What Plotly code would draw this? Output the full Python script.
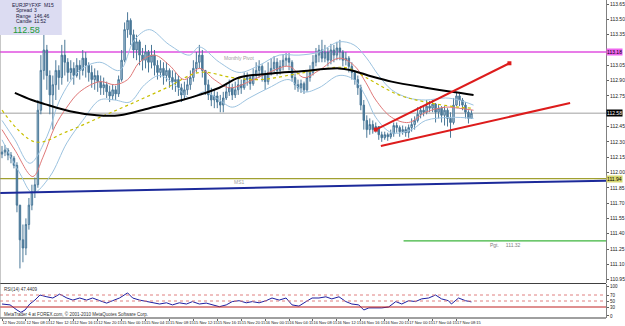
import plotly.graph_objects as go

# ---------------- data ----------------
close = [112.20,112.22,112.17,112.14,112.07,111.68,111.34,111.26,111.49,111.68,
111.81,111.88,112.61,113.00,113.20,112.95,112.76,112.86,113.00,112.93,
113.15,113.08,112.98,113.02,112.95,113.05,113.00,113.12,113.05,112.98,
112.91,112.95,112.89,112.83,112.86,112.79,112.75,112.81,112.77,112.91,
113.10,113.40,113.49,113.35,113.20,113.28,113.15,113.10,113.18,113.08,
113.15,113.05,112.98,113.02,112.95,113.00,112.93,112.89,112.91,112.83,
112.76,112.81,112.86,112.93,113.02,113.08,113.15,113.00,112.86,112.76,
112.71,112.75,112.69,112.66,112.73,112.79,112.83,112.76,112.81,112.86,
112.83,112.91,112.93,112.87,112.95,113.00,113.04,112.96,112.89,112.98,
113.02,113.08,113.00,113.04,113.10,113.12,113.08,112.93,112.86,112.83,
112.87,112.81,112.93,112.98,113.08,113.15,113.20,113.12,113.18,113.10,
113.20,113.15,113.22,113.18,113.10,113.12,113.04,112.98,112.91,112.83,
112.66,112.51,112.42,112.47,112.42,112.45,112.37,112.34,112.37,112.35,
112.38,112.46,112.44,112.40,112.42,112.39,112.44,112.47,112.51,112.57,
112.61,112.59,112.65,112.63,112.67,112.59,112.63,112.56,112.61,112.53,
112.49,112.66,112.75,112.71,112.66,112.59,112.53,112.58]

high = [112.26,112.27,112.24,112.20,112.16,112.10,111.68,111.49,111.55,111.75,
111.88,111.95,112.71,113.15,113.35,113.25,113.00,112.95,113.10,113.05,
113.25,113.30,113.12,113.10,113.08,113.12,113.10,113.20,113.18,113.08,
113.05,113.02,113.00,112.95,112.93,112.89,112.85,112.86,112.85,112.95,
113.20,113.47,113.57,113.51,113.40,113.35,113.30,113.22,113.25,113.20,
113.25,113.20,113.10,113.10,113.08,113.08,113.02,113.00,112.98,112.95,
112.87,112.89,112.93,113.00,113.10,113.18,113.25,113.20,113.00,112.91,
112.83,112.81,112.79,112.76,112.79,112.86,112.91,112.87,112.89,112.93,
112.91,112.98,112.98,112.95,113.02,113.08,113.10,113.06,113.00,113.08,
113.12,113.14,113.12,113.10,113.16,113.17,113.17,113.10,112.97,112.91,
112.91,112.89,113.00,113.05,113.15,113.22,113.25,113.30,113.25,113.22,
113.26,113.25,113.28,113.30,113.20,113.18,113.14,113.08,113.00,112.95,
112.86,112.71,112.56,112.53,112.51,112.49,112.44,112.40,112.40,112.39,
112.42,112.49,112.49,112.46,112.46,112.45,112.47,112.53,112.55,112.64,
112.65,112.66,112.71,112.70,112.71,112.68,112.66,112.65,112.65,112.63,
112.59,112.73,112.79,112.77,112.73,112.69,112.61,112.61]

low = [112.14,112.16,112.12,112.09,112.04,111.61,111.06,111.12,111.19,111.44,
111.63,111.75,111.85,112.57,112.91,112.81,112.57,112.42,112.71,112.81,
112.86,112.95,112.89,112.91,112.86,112.93,112.91,112.95,112.93,112.89,
112.83,112.81,112.79,112.76,112.76,112.73,112.69,112.71,112.71,112.74,
112.89,113.08,113.32,113.25,113.12,113.10,113.05,113.00,113.02,112.98,
113.02,112.95,112.91,112.93,112.86,112.89,112.83,112.81,112.79,112.75,
112.69,112.71,112.76,112.81,112.89,112.98,113.02,112.93,112.76,112.71,
112.65,112.63,112.63,112.59,112.59,112.71,112.75,112.71,112.73,112.76,
112.77,112.81,112.85,112.81,112.85,112.91,112.93,112.89,112.81,112.86,
112.95,112.98,112.95,112.96,113.00,113.04,113.00,112.89,112.81,112.79,
112.78,112.77,112.79,112.89,112.95,113.04,113.08,113.08,113.08,113.04,
113.06,113.08,113.10,113.10,113.04,113.05,112.98,112.91,112.86,112.76,
112.61,112.42,112.34,112.37,112.38,112.39,112.32,112.30,112.32,112.31,
112.33,112.35,112.39,112.35,112.37,112.35,112.34,112.40,112.42,112.49,
112.53,112.55,112.57,112.59,112.59,112.49,112.53,112.49,112.46,112.45,
112.34,112.47,112.65,112.65,112.61,112.53,112.48,112.54]

first_open = 112.18

# moving averages (bar index, price)
ma_black_x = [4.3,10,14.3,22.7,31.7,39.3,49.3,60.3,66,72.7,79.3,90.3,99.3,112.7,117,123.7,130.3,141.7,150.3,157.7]
ma_black_y = [112.78,112.71,112.67,112.60,112.56,112.56,112.63,112.71,112.76,112.83,112.93,112.97,112.99,113.02,113.00,112.94,112.89,112.83,112.79,112.76]

ma_yellow_x = [0,11,21.7,32.7,43.7,55,66,77,86,99.3,111.7,116,121.7,132.7,141.7,152.7,157.7]
ma_yellow_y = [112.61,112.30,112.40,112.54,112.68,112.83,112.98,112.93,112.91,112.97,113.03,113.02,112.93,112.76,112.69,112.64,112.63]

ma_red_x = [0,4.3,10.3,13.7,17.7,21.7,26,32.7,37.7,42,46,51,56,61,66,71,76,82.7,89.3,96,101,106,112.7,117.7,121.7,125,130.3,136,141.7,148.3,152.7,157.7]
ma_red_y = [112.42,112.22,111.96,112.15,112.45,112.64,112.79,112.89,112.86,112.91,113.08,113.15,113.05,112.91,113.02,112.91,112.83,112.89,112.98,113.04,112.93,113.00,113.12,113.05,112.88,112.71,112.54,112.49,112.59,112.64,112.63,112.61]

band_up_x = [0,4.3,9.3,15,19.3,26,32.7,39.3,44.3,49.3,56,62.7,66,72.7,79.3,86,92.7,99.3,106,112.7,117.7,121.7,126,130.3,136,141.7,148.3,152.7,157.7]
band_up_y = [112.51,112.32,112.09,112.35,112.71,113.00,113.08,113.00,113.30,113.40,113.25,113.15,113.23,113.08,112.98,113.05,113.15,113.15,113.18,113.28,113.25,113.13,112.95,112.81,112.73,112.71,112.73,112.71,112.66]

band_dn_x = [0,6,10.3,16,21.7,27,32.7,37.7,42.7,47.7,52.7,57.7,62.7,67.7,72.7,77,82.7,89.3,96,101,106,112.7,117.7,121.7,125,130.3,137,141.7,150.3,157.7]
band_dn_y = [112.32,111.99,111.80,111.96,112.29,112.51,112.71,112.71,112.69,112.86,112.95,112.86,112.73,112.79,112.71,112.64,112.73,112.83,112.91,112.79,112.83,112.95,112.91,112.74,112.54,112.39,112.42,112.51,112.54,112.53]

# drawn objects
trend_up_x = [125, 169.7]
trend_up_y = [112.42, 113.07]
trend_lo_x = [126.7, 190]
trend_lo_y = [112.26, 112.68]
blue_trend_x = [-0.67, 202]
blue_trend_y = [111.80, 111.92]
pgt_x = [134.3, 202]
pgt_level = 111.33
monthly_pivot = 113.18
ms1_level = 111.94
bid = 112.58

# RSI(14)
rsi_idx = [0,2.7,5,6.3,7.7,9.3,11,12.7,15,17,19.3,21.7,23.7,26,28.3,30.3,32.7,35,37,39.3,
42,43.7,46,48.3,50.3,52.7,55,57,59.3,61.7,63.7,66,68.3,70.3,72.7,75,77,79.3,81.7,83.7,
86,88.3,90.3,92.7,95,97,99.3,101.7,103.7,106,108.3,110.3,112.7,115,117,119.3,121,122.7,125,127,
129.3,131.7,133.7,136,138.3,140.3,142.7,145,147,149.3,150.3,152.7,155,157]
rsi_val = [40,37,20,12,20,40,53,70,64,60,73,60,53,60,53,60,51,43,51,60,
77,60,53,48,43,40,44,37,44,40,48,40,43,37,31,37,48,51,44,48,
44,51,60,53,60,37,33,48,60,60,64,57,64,48,40,37,20,27,27,27,
30,48,40,51,48,57,60,70,57,51,40,60,51,47]
rsi_levels_dot = [70, 50]
rsi_level_solid = 30

time_tick_idx = [0,8,16,24,32,40,48,56,64,72,80,88,96,104,112,120,128,136,144,152]
time_tick_text = ["12 Nov 2010","12 Nov 08:15","12 Nov 12:15","12 Nov 16:15","12 Nov 20:15",
                  "15 Nov 00:15","15 Nov 04:15","15 Nov 08:15","15 Nov 12:15","15 Nov 16:15",
                  "15 Nov 20:15","16 Nov 00:15","16 Nov 04:15","16 Nov 08:15","16 Nov 12:15",
                  "16 Nov 16:15","16 Nov 20:15","17 Nov 00:15","17 Nov 04:15","17 Nov 08:15"]
price_ticks = [110.95,111.10,111.25,111.40,111.55,111.70,111.85,112.00,112.15,112.30,
               112.45,112.60,112.75,112.90,113.05,113.20,113.35,113.50,113.65]
rsi_ticks = [0, 30, 50, 70, 100]

# ---------------- build ----------------
n = len(close)
idx = list(range(n))
opn = [first_open] + close[:-1]
hi = [max(h, o, c) for h, o, c in zip(high, opn, close)]
lo = [min(l, o, c) for l, o, c in zip(low, opn, close)]

W, H = 625, 326
MR, MB = 17, 8
PW, PH = W - MR, H - MB
def px(x): return x / PW
def py(y): return 1 - y / PH

FONT = "Liberation Sans"
fig = go.Figure()

fig.add_trace(go.Scatter(x=band_up_x, y=band_up_y, mode="lines", line=dict(color="#9cc3e0", width=1, shape="spline"), xaxis="x", yaxis="y"))
fig.add_trace(go.Scatter(x=band_dn_x, y=band_dn_y, mode="lines", line=dict(color="#9cc3e0", width=1, shape="spline"), xaxis="x", yaxis="y"))
fig.add_trace(go.Scatter(x=ma_red_x, y=ma_red_y, mode="lines", line=dict(color="#e07878", width=1, shape="spline"), xaxis="x", yaxis="y"))
fig.add_trace(go.Scatter(x=ma_yellow_x, y=ma_yellow_y, mode="lines", line=dict(color="#c8c000", width=1.2, dash="dot", shape="spline"), xaxis="x", yaxis="y"))

fig.add_trace(go.Candlestick(x=idx, open=opn, high=hi, low=lo, close=close,
    increasing=dict(line=dict(color="#4a7898", width=1), fillcolor="#b5cde0"),
    decreasing=dict(line=dict(color="#4a7898", width=1), fillcolor="#4a7898"),
    whiskerwidth=0, xaxis="x", yaxis="y"))

fig.add_trace(go.Scatter(x=ma_black_x, y=ma_black_y, mode="lines", line=dict(color="#000000", width=2, shape="spline"), xaxis="x", yaxis="y"))

fig.add_trace(go.Scatter(x=blue_trend_x, y=blue_trend_y, mode="lines", line=dict(color="#1c2a9a", width=2), xaxis="x", yaxis="y"))
fig.add_trace(go.Scatter(x=pgt_x, y=[pgt_level]*2, mode="lines", line=dict(color="#3cb43c", width=1.2), xaxis="x", yaxis="y"))
fig.add_trace(go.Scatter(x=trend_up_x, y=trend_up_y, mode="lines+markers", line=dict(color="#dd1c1c", width=2),
                         marker=dict(symbol="square", size=4, color="#dd1c1c"), xaxis="x", yaxis="y"))
fig.add_trace(go.Scatter(x=trend_lo_x, y=trend_lo_y, mode="lines", line=dict(color="#dd1c1c", width=2), xaxis="x", yaxis="y"))

fig.add_trace(go.Scatter(x=rsi_idx, y=rsi_val, mode="lines", line=dict(color="#1f1fa0", width=1), xaxis="x2", yaxis="y2"))

shapes = []
for lvl, col, w in [(bid, "#c0c0c0", 1.5), (monthly_pivot, "#e050e0", 1.5), (ms1_level, "#a0a030", 1.2)]:
    shapes.append(dict(type="line", xref="paper", x0=0, x1=1, yref="y", y0=lvl, y1=lvl, line=dict(color=col, width=w), layer="below"))
for lvl in rsi_levels_dot:
    shapes.append(dict(type="line", xref="paper", x0=0, x1=1, yref="y2", y0=lvl, y1=lvl, line=dict(color="#e08080", width=1, dash="dot")))
shapes.append(dict(type="line", xref="paper", x0=0, x1=1, yref="y2", y0=rsi_level_solid, y1=rsi_level_solid, line=dict(color="#c02020", width=1.2)))
shapes.append(dict(type="line", xref="paper", x0=0, x1=1, yref="paper", y0=py(283.5), y1=py(283.5), line=dict(color="#404040", width=1)))
shapes.append(dict(type="line", xref="paper", x0=0, x1=1, yref="paper", y0=0, y1=0, line=dict(color="#404040", width=1)))
shapes.append(dict(type="line", xref="paper", x0=0, x1=0, yref="paper", y0=0, y1=1, line=dict(color="#909090", width=1)))
shapes.append(dict(type="rect", xref="paper", yref="paper", x0=0, x1=px(62), y0=py(35), y1=1, fillcolor="#dcdcf2", line=dict(width=0)))

ann = []
def t(x, y, s, size=5, color="#202040", xa="left"):
    ann.append(dict(xref="paper", yref="paper", x=px(x), y=py(y), text=s, showarrow=False, xanchor=xa, yanchor="middle",
                    font=dict(size=size, color=color, family=FONT)))

t(10, 4.5, "EURJPYFXF&nbsp;&nbsp;M15")
t(14, 10, "Spread")
t(32, 10, "3")
t(14, 15.5, "Range")
t(32, 15.5, "146.46")
t(14, 21, "Candle")
t(32, 21, "11:52")
t(11, 29.5, "112.58", size=9, color="#229a3a")
t(223, 58, "Monthly Pivot", size=5, color="#a0a0a0")
t(233, 182, "MS1", size=5, color="#a0a0a0")
t(490, 245, "Pgt.&nbsp;&nbsp;&nbsp;&nbsp;&nbsp;111.32", size=5, color="#808080")
t(2, 289, "RSI(14) 47.4409", size=4.5, color="#303030")
t(2, 314, "MetaTrader 4 at FOREX.com, © 2001-2010 MetaQuotes Software Corp.", size=4.5, color="#303030")

for lvl, bg, fc in [(monthly_pivot, "#ee66ee", "#000000"), (bid, "#000000", "#ffffff"), (ms1_level, "#d8d870", "#000000")]:
    ann.append(dict(xref="paper", yref="y", x=1.0, y=lvl, xanchor="left", yanchor="middle", showarrow=False,
                    text="%.2f" % lvl, bgcolor=bg, borderpad=0, font=dict(size=5, color=fc, family=FONT)))

# tick labels hidden where a price box covers them (as in the reference)
covered = [monthly_pivot, bid, ms1_level]
price_text = ["" if any(abs(v - c) < 0.06 for c in covered) else "%.2f" % v for v in price_ticks]

xr = [-0.67, 202]
fig.update_layout(
    width=W, height=H, margin=dict(l=0, r=MR, t=0, b=MB),
    paper_bgcolor="white", plot_bgcolor="white", showlegend=False,
    font=dict(family=FONT, size=5, color="#202020"),
    xaxis=dict(domain=[0, 1], range=xr, anchor="y", showticklabels=False, showgrid=False, zeroline=False,
               rangeslider=dict(visible=False)),
    xaxis2=dict(domain=[0, 1], range=xr, anchor="y2", showgrid=False, zeroline=False,
                tickmode="array", tickvals=time_tick_idx, ticktext=time_tick_text, tickangle=0,
                ticklabelposition="outside right", ticks="outside", ticklen=2, tickcolor="#606060",
                tickfont=dict(size=4, color="#202020")),
    yaxis=dict(domain=[1 - 283 / PH, 1], range=[110.917, 113.69], side="right", anchor="x",
               tickmode="array", tickvals=price_ticks, ticktext=price_text,
               ticks="outside", ticklen=2, tickcolor="#606060", showgrid=False, zeroline=False,
               showline=True, linecolor="#808080", tickfont=dict(size=5, color="#202020")),
    yaxis2=dict(domain=[0, 34 / PH], range=[-6.7, 106.7], side="right", anchor="x2",
                tickmode="array", tickvals=rsi_ticks, ticktext=[str(v) for v in rsi_ticks],
                ticks="outside", ticklen=2, tickcolor="#606060", showgrid=False, zeroline=False,
                showline=True, linecolor="#808080", tickfont=dict(size=4.5, color="#202020")),
    shapes=shapes, annotations=ann,
)

fig.write_html("out.html")
